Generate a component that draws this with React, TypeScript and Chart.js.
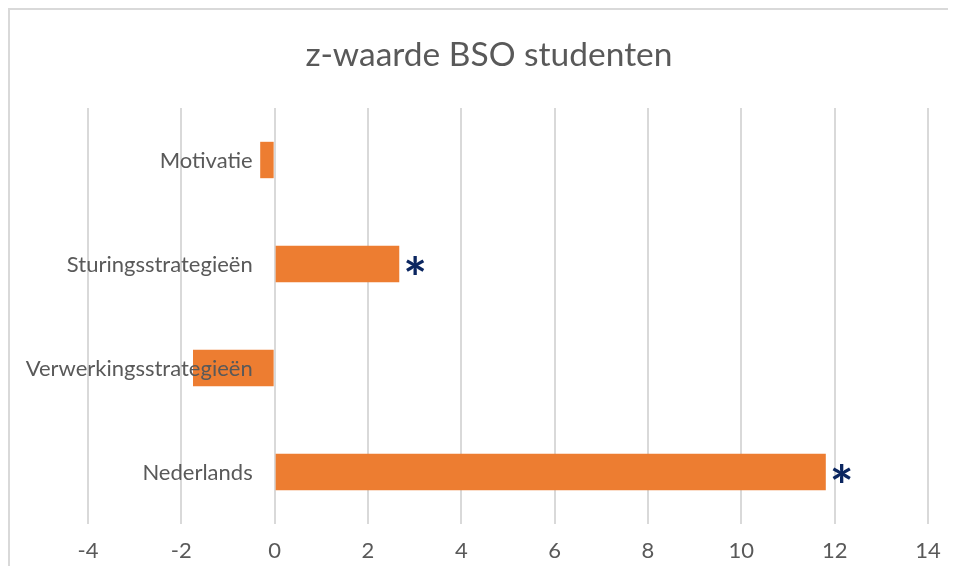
import React, { useEffect, useRef } from "react";
import { Chart, registerables } from "chart.js";

Chart.register(...registerables);

const categories = ["Motivatie", "Sturingsstrategieën", "Verwerkingsstrategieën", "Nederlands"];
const zValues = [-0.31, 2.67, -1.75, 11.81];
const significant = [false, true, false, true];
const xTicks = [-4, -2, 0, 2, 4, 6, 8, 10, 12, 14];
const titleText = "z-waarde BSO studenten";

const FONT = "Lato, 'Open Sans', sans-serif";
const GRAY = "#595959";

const labelsPlugin = {
  id: "catLabelsAndStars",
  afterDatasetsDraw(chart: any) {
    const { ctx, scales } = chart;
    const x = scales.x;
    const y = scales.y;
    const zeroPx = x.getPixelForValue(0);
    ctx.save();
    // title
    ctx.font = `33.5px ${FONT}`;
    ctx.fillStyle = GRAY;
    ctx.textAlign = "center";
    ctx.textBaseline = "middle";
    ctx.fillText(titleText, chart.width / 2 + 10, 45);
    // category labels
    ctx.font = `22px ${FONT}`;
    ctx.textAlign = "right";
    categories.forEach((c, i) => {
      ctx.fillText(c, zeroPx - 22, y.getPixelForValue(i) + 1);
    });
    // significance markers
    ctx.font = `bold 56px ${FONT}`;
    ctx.fillStyle = "#0b2660";
    ctx.textAlign = "left";
    ctx.textBaseline = "alphabetic";
    const m = ctx.measureText("*");
    const asc = m.actualBoundingBoxAscent;
    const desc = m.actualBoundingBoxDescent;
    const left = m.actualBoundingBoxLeft;
    significant.forEach((s, i) => {
      if (!s) return;
      const endPx = x.getPixelForValue(zValues[i]);
      const cy = y.getPixelForValue(i) + 1;
      const baseline = cy + (asc - desc) / 2;
      ctx.fillText("*", endPx + 6 + left, baseline);
    });
    ctx.restore();
  },
};

export default function App() {
  const ref = useRef<HTMLCanvasElement>(null);
  useEffect(() => {
    if (!ref.current) return;
    const chart = new Chart(ref.current, {
      type: "bar",
      data: {
        labels: categories,
        datasets: [
          {
            data: zValues,
            backgroundColor: "#ED7D31",
            borderWidth: 0,
            categoryPercentage: 1,
            barPercentage: 0.35,
          },
        ],
      },
      options: {
        indexAxis: "y",
        animation: false,
        responsive: false,
        layout: { padding: { left: 78, right: 20, top: 98, bottom: 0 } },
        plugins: {
          legend: { display: false },
          tooltip: { enabled: false },
          title: { display: false },
        },
        scales: {
          x: {
            type: "linear",
            min: -4,
            max: 14,
            afterBuildTicks: (scale: any) => {
              scale.ticks = xTicks.map((v) => ({ value: v }));
            },
            afterFit: (scale: any) => {
              scale.height = 42;
              scale.paddingLeft = 0;
              scale.paddingRight = 0;
            },
            grid: { color: "#d9d9d9", lineWidth: 2, drawTicks: false },
            border: { display: false },
            ticks: {
              color: GRAY,
              font: { family: FONT, size: 22 },
              padding: 14,
            },
          },
          y: {
            display: false,
          },
        },
      },
      plugins: [labelsPlugin],
    });
    return () => chart.destroy();
  }, []);
  return (
    <div
      style={{
        width: 938,
        height: 556,
        borderTop: "2px solid #d9d9d9",
        borderLeft: "2px solid #d9d9d9",
        background: "#fff",
      }}
    >
      <canvas ref={ref} width={938} height={556} style={{ display: "block" }} />
    </div>
  );
}
